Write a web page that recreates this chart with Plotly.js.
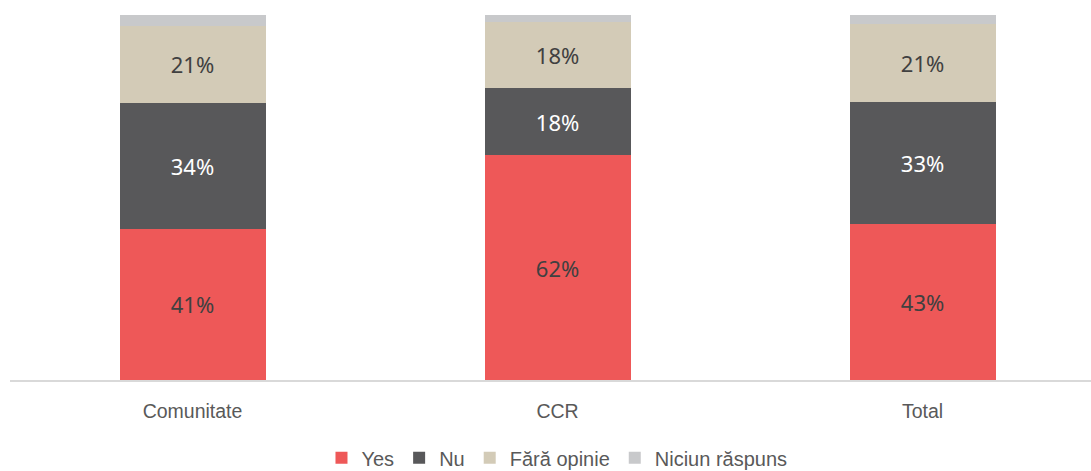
<!DOCTYPE html>
<html>
<head>
<meta charset="utf-8">
<script src="https://cdn.plot.ly/plotly-3.0.1.min.js"></script>
<style>html,body{margin:0;padding:0;background:#fff;}#chart{width:1091px;height:471px;}</style>
</head>
<body>
<div id="chart"></div>
<script>
const categories = ["Comunitate", "CCR", "Total"];
const seriesNames = ["Yes", "Nu", "Fără opinie", "Niciun răspuns"];
const yesValues = [41.4, 61.6, 42.7];
const nuValues = [34.4, 18.4, 33.4];
const faraOpinieValues = [21.3, 18.1, 21.4];
const niciunValues = [2.9, 1.9, 2.5];

const colors = ["#EE5858", "#58585A", "#D3CBB7", "#C8C9CB"];
const labelColors = ["#404040", "#FFFFFF", "#404040", "#404040"];
const allValues = [yesValues, nuValues, faraOpinieValues, niciunValues];

const traces = allValues.map((vals, i) => ({
  type: "bar",
  name: seriesNames[i],
  x: categories,
  y: vals,
  marker: { color: colors[i], line: { width: 0 } },
  texttemplate: i < 3 ? "%{y:.0f}%" : "",
  textposition: i < 3 ? "inside" : "none",
  insidetextanchor: "middle",
  textangle: 0,
  constraintext: "none",
  textfont: { family: "'Noto Sans', 'Open Sans', sans-serif", size: 22, color: labelColors[i] },
  hoverinfo: "skip"
}));

const layout = {
  width: 1091,
  height: 471,
  margin: { l: 10, r: 0, t: 15, b: 91, pad: 0, autoexpand: false },
  paper_bgcolor: "#FFFFFF",
  plot_bgcolor: "#FFFFFF",
  barmode: "stack",
  bargap: 0.6,
  showlegend: true,
  legend: {
    orientation: "h",
    x: 0.506,
    xanchor: "center",
    yref: "container",
    y: 0.028,
    yanchor: "middle",
    font: { family: "'Liberation Sans', Arial, sans-serif", size: 20, color: "#595959" },
    traceorder: "normal",
    itemclick: false
  },
  xaxis: {
    type: "category",
    range: [-0.5, 2.4616],
    showline: true,
    linecolor: "#D9D9D9",
    linewidth: 1.5,
    ticks: "",
    showgrid: false,
    zeroline: false,
    automargin: false,
    ticklabelstandoff: 13,
    tickfont: { family: "'Liberation Sans', Arial, sans-serif", size: 19.5, color: "#595959" },
    fixedrange: true
  },
  yaxis: {
    range: [0, 100],
    visible: false,
    showgrid: false,
    zeroline: false,
    automargin: false,
    fixedrange: true
  }
};

Plotly.newPlot("chart", traces, layout, { displayModeBar: false, staticPlot: true });
</script>
</body>
</html>
